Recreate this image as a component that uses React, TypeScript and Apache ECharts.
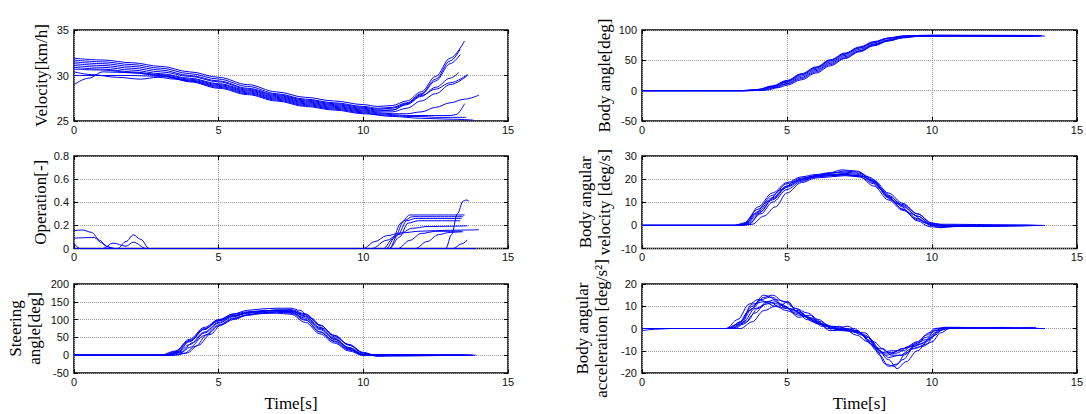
import React, { useEffect, useRef } from "react";
import * as echarts from "echarts";

type Pt = [number, number];

// ---------- DATA (time [s], value) ----------
const timeMin = 0;
const timeMax = 15;
const timeStep = 5;

const velocityRuns: Pt[][] = [
  [[0,31.9],[1,31.7],[2,31.4],[3,31.0],[4,30.4],[5,29.8],[6,29.0],[7,28.2],[8,27.6],[9,27.2],[10,26.8],[10.5,26.6],[11,26.7],[11.5,27.2],[12,28.2],[12.5,29.9],[13,31.9],[13.5,33.8]],
  [[0,31.7],[1,31.5],[2,31.2],[3,30.8],[4,30.2],[5,29.6],[6,28.8],[7,28.0],[8,27.4],[9,27.0],[10,26.6],[10.5,26.4],[11,26.5],[11.5,27.0],[12,28.0],[12.5,29.6],[13,31.6],[13.35,32.9]],
  [[0,31.5],[1,31.3],[2,31.0],[3,30.6],[4,30.0],[5,29.4],[6,28.6],[7,27.9],[8,27.3],[9,26.9],[10,26.5],[10.5,26.3],[11,26.4],[11.5,26.9],[12,27.9],[12.5,29.4],[13,31.3],[13.35,32.3]],
  [[0,31.3],[1,31.1],[2,30.8],[3,30.4],[4,29.9],[5,29.3],[6,28.5],[7,27.8],[8,27.2],[9,26.8],[10,26.4],[10.5,26.2],[11,26.2],[11.5,26.8],[12,27.7],[12.5,28.7],[13,29.7],[13.3,30.35]],
  [[0,31.1],[1,30.9],[2,30.6],[3,30.2],[4,29.7],[5,29.1],[6,28.4],[7,27.7],[8,27.1],[9,26.7],[10,26.3],[10.5,26.1],[11,26.2],[11.5,26.9],[12,27.8],[12.5,28.5],[13,29.2],[13.6,30.1]],
  [[0,30.9],[1,30.7],[2,30.4],[3,30.1],[4,29.6],[5,29.0],[6,28.3],[7,27.6],[8,27.0],[9,26.6],[10,26.2],[10.5,26.0],[11,26.0],[11.5,26.4],[12,27.2],[12.5,28.0],[13,29.0],[13.6,30.0]],
  [[0,30.7],[1,30.6],[2,30.3],[3,30.0],[4,29.5],[5,28.9],[6,28.2],[7,27.5],[8,26.9],[9,26.5],[10,26.1],[10.5,25.9],[11,25.8],[11.5,25.8],[12,26.0],[12.5,26.5],[13,27.0],[13.5,27.4],[14.0,27.85]],
  [[0,30.0],[0.5,30.0],[1,30.0],[2,30.0],[3,29.9],[4,29.4],[5,28.8],[6,28.1],[7,27.4],[8,26.8],[9,26.4],[10,26.0],[10.5,25.8],[11,25.7],[11.5,25.6],[12,25.6],[12.5,25.6],[13,25.6],[13.2,25.7],[13.5,26.9]],
  [[0,29.0],[0.5,29.7],[1,30.4],[2,30.3],[3,30.0],[4,29.4],[5,28.7],[6,28.0],[7,27.3],[8,26.7],[9,26.3],[10,25.9],[10.5,25.7],[11,25.6],[11.5,25.5],[12,25.5],[12.5,25.4],[13,25.4],[13.55,25.4]],
  [[0,30.4],[0.6,30.1],[1.5,29.8],[2.3,29.6],[2.9,29.8],[3.5,29.6],[4,29.3],[5,28.6],[6,27.9],[7,27.2],[8,26.6],[9,26.2],[10,25.8],[11,25.5],[12,25.3],[13,25.2],[13.8,25.1]],
];

const operationRuns: Pt[][] = [
  [[0,0.155],[0.3,0.16],[0.6,0.14],[0.9,0.07],[1.1,0.02],[1.4,0],[10.7,0],[11.0,0.08],[11.3,0.22],[11.6,0.29],[13.5,0.29]],
  [[0,0.09],[0.7,0.095],[0.95,0.05],[1.2,0.01],[1.4,0],[10.8,0],[11.1,0.1],[11.4,0.24],[11.7,0.275],[13.45,0.275]],
  [[0,0.045],[0.2,0],[1.5,0],[1.8,0.06],[2.05,0.118],[2.3,0.08],[2.6,0],[10.9,0],[11.2,0.12],[11.5,0.24],[11.8,0.26],[13.4,0.26]],
  [[0,0],[1.0,0],[1.35,0.047],[1.8,0.02],[2.05,0.055],[2.5,0],[10.9,0],[11.25,0.1],[11.55,0.22],[11.9,0.24],[13.35,0.24]],
  [[0,0],[10.0,0],[10.4,0.06],[10.8,0.11],[11.3,0.135],[12,0.15],[13,0.158],[14,0.162]],
  [[0,0],[10.3,0],[10.8,0.07],[11.2,0.12],[11.7,0.175],[12.2,0.19],[13.6,0.196]],
  [[0,0],[11.2,0],[11.6,0.07],[12.0,0.13],[12.5,0.148],[13.4,0.15]],
  [[0,0],[11.8,0],[12.2,0.06],[12.6,0.12],[13.0,0.14],[13.45,0.145]],
  [[0,0],[12.85,0],[13.05,0.12],[13.25,0.3],[13.45,0.41],[13.55,0.42],[13.65,0.41]],
  [[0,0],[13.1,0],[13.4,0.04],[13.6,0.075]],
  [[0,0],[13.9,0]],
];

const steeringRuns: Pt[][] = [
  [[0,0],[3.0,0],[3.5,12],[4,45],[4.5,78],[5,100],[5.5,115],[6,122],[6.5,125],[7,126],[7.5,122],[8,100],[8.5,65],[9,38],[9.5,15],[10,0],[13.5,0]],
  [[0,0],[3.1,0],[3.5,8],[4,38],[4.5,72],[5,97],[5.5,112],[6,120],[6.5,124],[7,127],[7.5,126],[8,110],[8.5,78],[9,48],[9.5,22],[10,3],[10.5,-2],[13.6,0]],
  [[0,0],[3.2,0],[3.6,8],[4,30],[4.5,65],[5,92],[5.5,110],[6,119],[6.5,124],[7,127],[7.5,128],[8,116],[8.5,85],[9,55],[9.5,28],[10,6],[10.5,-2],[13.8,0]],
  [[0,0],[3.3,0],[3.7,7],[4,22],[4.5,55],[5,85],[5.5,104],[6,114],[6.5,119],[7,121],[7.5,118],[8,98],[8.5,66],[9,40],[9.5,17],[10,1],[13.9,0]],
  [[0,0],[3.4,0],[3.8,5],[4.2,25],[4.6,58],[5,82],[5.5,102],[6,113],[6.5,117],[7,118],[7.5,115],[8,92],[8.5,60],[9,34],[9.5,12],[10,-1],[13.5,0]],
  [[0,0],[3.2,0],[3.6,10],[4,40],[4.5,74],[5,98],[5.5,116],[6,126],[6.5,130],[7,132],[7.5,132],[7.8,126],[8.2,104],[8.6,76],[9,52],[9.5,30],[10,8],[10.4,0],[13.7,0]],
  [[0,0],[3.3,0],[3.7,9],[4.1,35],[4.5,62],[5,90],[5.5,108],[6,118],[6.5,123],[7,125],[7.5,124],[8,108],[8.5,75],[9,46],[9.5,20],[10,2],[13.4,0]],
  [[0,0],[3.5,0],[3.9,6],[4.3,28],[4.7,58],[5.1,86],[5.5,100],[6,112],[6.5,118],[7,122],[7.5,124],[8,114],[8.5,84],[9,56],[9.5,30],[10,6],[10.5,-3],[11,0],[13.8,0]],
  [[0,0],[3.1,0],[3.5,10],[4,42],[4.5,74],[5,96],[5.5,111],[6,118],[6.5,121],[7,122],[7.5,120],[8,104],[8.5,72],[9,44],[9.5,20],[10,2],[10.5,1],[11.5,2],[12,0],[13.5,0]],
];

const bodyAngleRuns: Pt[][] = [
  [[0,0],[3.4,0],[4,2],[4.5,8],[5,17],[5.5,28],[6,39],[6.5,51],[7,62],[7.5,72],[8,81],[8.5,87],[9,90],[9.5,91],[10,91],[13.8,90.5]],
  [[0,0],[3.5,0],[4,1.5],[4.5,7],[5,15],[5.5,26],[6,37],[6.5,49],[7,60],[7.5,70],[8,79],[8.5,86],[9,89.5],[9.5,90.5],[10,91],[13.6,90.5]],
  [[0,0],[3.6,0],[4,1],[4.5,6],[5,14],[5.5,24],[6,35],[6.5,47],[7,58],[7.5,68],[8,77],[8.5,84],[9,89],[9.5,90],[10,90.5],[13.9,90]],
  [[0,0],[3.6,0],[4.1,1],[4.5,5],[5,12],[5.5,22],[6,33],[6.5,45],[7,56],[7.5,66],[8,76],[8.5,83],[9,88],[9.5,90],[10,90],[13.5,90]],
  [[0,0],[3.7,0],[4.2,1],[4.6,5],[5,11],[5.5,20],[6,31],[6.5,43],[7,54],[7.5,65],[8,75],[8.5,82],[9,87.5],[9.5,89.5],[10,90],[13.7,89.5]],
  [[0,0],[3.8,0],[4.3,1],[4.7,5],[5,9],[5.5,18],[6,29],[6.5,41],[7,53],[7.5,64],[8,74],[8.5,82],[9,87],[9.5,89.5],[10,90],[13.4,89.5]],
  [[0,0],[3.5,0],[4,2],[4.5,7],[5,16],[5.5,27],[6,38],[6.5,50],[7,61],[7.5,71],[8,80],[8.5,86.5],[9,90],[9.5,91],[10,91.5],[13.8,91]],
];

const angVelocityRuns: Pt[][] = [
  [[0,0],[3.2,0],[3.5,1],[4,7],[4.5,13],[5,18],[5.5,20.5],[6,21.5],[6.5,22.5],[7,23.5],[7.5,23],[7.8,21],[8.2,16],[8.6,11],[9,8],[9.5,4],[10,0.5],[13.6,0]],
  [[0,0],[3.3,0],[3.6,1],[4,6],[4.5,12],[5,17],[5.5,20],[6,21.5],[6.5,22],[7,22.5],[7.5,22],[8,18.5],[8.5,12],[9,7],[9.5,3],[10,0],[10.3,-0.5],[13.8,0]],
  [[0,0],[3.3,0],[3.6,0.5],[4,5],[4.5,11],[5,16.5],[5.5,19.5],[6,21],[6.5,22],[7,22],[7.5,21],[8,17],[8.5,11],[9,6.5],[9.5,2.5],[10,0],[13.5,0]],
  [[0,0],[3.4,0],[3.7,1],[4.1,5],[4.5,10],[5,15.5],[5.5,19],[6,21],[6.5,21.5],[7,22],[7.5,21.5],[8,19],[8.5,13],[9,8.5],[9.5,4],[10,0],[10.3,-1],[10.8,-0.5],[13.9,0]],
  [[0,0],[3.5,0],[3.8,0.5],[4.2,4],[4.6,8],[5,14],[5.5,18.5],[6,20.5],[6.5,21],[7,21.5],[7.5,21],[8,18],[8.5,12.5],[9,9],[9.5,5],[10,1],[10.5,0],[13.7,0]],
  [[0,0],[3.3,0],[3.6,1],[4,8],[4.5,14],[5,18.5],[5.5,21],[6,22],[6.5,22.8],[7,23],[7.5,22.5],[8,19],[8.5,12],[9,7],[9.5,2],[9.9,-0.5],[10.3,-1],[10.6,0],[13.4,0]],
  [[0,0],[3.4,0],[3.7,0.5],[4.1,6],[4.5,11.5],[5,17],[5.5,20],[6,21],[6.5,21.5],[7,21.8],[7.5,21.5],[8,19.5],[8.5,14],[9,9.5],[9.5,5],[10,1],[10.4,-0.5],[13.6,0]],
  [[0,0],[3.2,0],[3.5,0.5],[3.9,5],[4.3,10],[4.8,15.5],[5.3,19],[5.8,21],[6.4,22.5],[6.9,24],[7.4,23.5],[7.9,20.5],[8.3,15],[8.8,9.5],[9.3,5],[9.8,1],[10.2,0],[13.5,0]],
];

const angAccelRuns: Pt[][] = [
  [[0,0],[2.9,0],[3.3,2],[3.7,8],[4.1,13],[4.4,14],[4.8,11],[5.2,8],[5.6,6],[6,3],[6.4,1],[6.8,-0.5],[7.2,-1],[7.6,-3],[8,-8],[8.3,-11],[8.6,-11],[9,-9],[9.5,-6],[9.8,-3],[10.1,0],[10.5,0.5],[13.8,0]],
  [[0,-1],[0.5,-0.3],[1,0],[3.0,0],[3.4,3],[3.8,10],[4.2,15],[4.5,14],[4.9,10],[5.3,7],[5.7,5],[6.1,2],[6.5,1],[7,-1],[7.5,-2],[7.9,-6],[8.2,-12],[8.5,-17],[8.8,-16],[9.1,-11],[9.5,-6],[9.9,-2],[10.2,0],[13.5,0]],
  [[0,0],[3.1,0],[3.5,2],[3.9,7],[4.3,12],[4.6,13],[5,12],[5.3,9],[5.7,5],[6,4],[6.4,0],[6.8,1],[7.2,-1],[7.7,-2],[8.1,-9],[8.5,-14],[8.8,-18],[9.1,-15],[9.5,-10],[9.9,-5],[10.2,-1],[10.6,0],[13.9,0]],
  [[0,0],[3.2,0],[3.6,3],[4,9],[4.4,12],[4.7,10],[5.05,12],[5.3,8],[5.7,4],[6.1,2],[6.5,-1],[7,0],[7.4,-1],[7.8,-5],[8.1,-9],[8.4,-12],[8.8,-11],[9.2,-8],[9.6,-7],[10,-4],[10.3,0],[13.6,0.5]],
  [[0,0],[3.4,0],[3.8,3],[4.2,8],[4.6,10],[5,8],[5.4,6],[5.8,5],[6.2,2],[6.6,0],[7,-1],[7.4,-1],[7.8,-4],[8.2,-10],[8.5,-13],[8.9,-12],[9.3,-9],[9.7,-8],[10.0,-6],[10.3,-2],[10.6,0],[13.5,0]],
  [[0,0],[2.9,0],[3.3,4],[3.7,11],[4,13],[4.3,12],[4.7,11],[5.1,9],[5.5,7],[5.9,3],[6.3,2],[6.7,0],[7.1,1],[7.5,-2],[7.9,-7],[8.2,-11],[8.6,-10],[9,-10],[9.4,-7],[9.8,-5],[10.1,-1],[10.4,0.5],[13.7,0]],
  [[0,0],[3.0,0],[3.4,2],[3.8,9],[4.2,14],[4.5,15],[4.9,12],[5.3,9],[5.7,7],[6.1,4],[6.5,0],[6.9,-1],[7.3,0],[7.7,-3],[8,-6],[8.3,-9],[8.6,-12],[9,-12],[9.4,-9],[9.8,-7],[10.1,-3],[10.4,0],[13.8,0]],
  [[0,0],[3.1,0],[3.5,3],[3.9,9],[4.3,11],[4.6,12],[5,9],[5.4,5],[5.8,6],[6.2,1],[6.6,1],[7,-0.5],[7.4,-3],[7.8,-6],[8.1,-10],[8.4,-16],[8.7,-17],[9,-14],[9.4,-8],[9.8,-6],[10.1,-2],[10.5,0],[13.4,0]],
  [[0,0],[3.0,0],[3.4,3],[3.8,11],[4.2,12],[4.6,10],[5,9],[5.4,8],[5.8,4],[6.2,3],[6.6,-1],[7.0,0],[7.4,-1],[7.8,-4],[8.2,-9],[8.6,-11],[9,-9],[9.4,-8],[9.8,-4],[10.1,-1],[10.5,0],[12.5,0.5],[13,0],[13.9,0]],
];

// y-axis ranges: [min, max, interval]
const velocityRange = [25, 35, 5];
const operationRange = [0, 0.8, 0.2];
const steeringRange = [-50, 200, 50];
const bodyAngleRange = [-50, 100, 50];
const angVelocityRange = [-10, 30, 10];
const angAccelRange = [-20, 20, 10];

const yNames = [
  "Velocity[km/h]",
  "Operation[-]",
  "Steering\nangle[deg]",
  "Body angle[deg]",
  "Body angular\nvelocity [deg/s]",
  "Body angular\nacceleration [deg/s²]",
];
const xName = "Time[s]";

// ---------- LAYOUT ----------
const layout = [
  { left: 74, top: 30, width: 434, height: 91, gap: 23, xName: false },
  { left: 74, top: 156, width: 434, height: 92.5, gap: 24, xName: false },
  { left: 74, top: 284, width: 434, height: 92, gap: 30, xName: true },
  { left: 642, top: 30, width: 436, height: 91, gap: 28, xName: false },
  { left: 642, top: 156, width: 436, height: 92.5, gap: 28, xName: false },
  { left: 642, top: 284, width: 436, height: 92, gap: 31, xName: true },
];

const panelData = [velocityRuns, operationRuns, steeringRuns, bodyAngleRuns, angVelocityRuns, angAccelRuns];
const panelRanges = [velocityRange, operationRange, steeringRange, bodyAngleRange, angVelocityRange, angAccelRange];

const LINE = "#0000ff";
const tickFont = { fontFamily: "Liberation Sans, Arial, sans-serif", fontSize: 11, color: "#111" };
const nameFont = { fontFamily: "Liberation Serif, Times New Roman, serif", fontSize: 17, color: "#000", lineHeight: 19 };

export default function App() {
  const ref = useRef<HTMLDivElement>(null);
  useEffect(() => {
    document.body.style.margin = "0";
    if (!ref.current) return;
    const chart = echarts.init(ref.current, undefined, { renderer: "svg" });

    const grids: any[] = [];
    const xAxes: any[] = [];
    const yAxes: any[] = [];
    const series: any[] = [];

    layout.forEach((g, i) => {
      grids.push({
        left: g.left, top: g.top, width: g.width, height: g.height,
        show: true, borderColor: "#000", borderWidth: 1.5, containLabel: false,
      });
      const [ymin, ymax, yint] = panelRanges[i];
      const tick = { show: true, inside: true, length: 4, lineStyle: { color: "#000", width: 1 } };
      const noLine = { show: false, onZero: false };
      xAxes.push({
        type: "value", gridIndex: i, min: timeMin, max: timeMax, interval: timeStep, position: "bottom",
        axisLine: noLine, axisTick: tick,
        axisLabel: { ...tickFont, margin: 3 },
        splitLine: { show: true, lineStyle: { color: "#9a9a9a", type: "dotted", width: 1 } },
        name: g.xName ? xName : "", nameLocation: "middle", nameGap: 21,
        nameTextStyle: nameFont,
      });
      xAxes.push({
        type: "value", gridIndex: i, min: timeMin, max: timeMax, interval: timeStep, position: "top",
        axisLine: noLine, axisTick: tick, axisLabel: { show: false }, splitLine: { show: false },
      });
      yAxes.push({
        type: "value", gridIndex: i, min: ymin, max: ymax, interval: yint, position: "left",
        axisLine: noLine, axisTick: tick,
        axisLabel: { ...tickFont, margin: 5 },
        splitLine: { show: true, lineStyle: { color: "#9a9a9a", type: "dotted", width: 1 } },
        name: yNames[i], nameLocation: "middle", nameGap: g.gap, nameRotate: 90,
        nameTextStyle: nameFont,
      });
      yAxes.push({
        type: "value", gridIndex: i, min: ymin, max: ymax, interval: yint, position: "right",
        axisLine: noLine, axisTick: tick, axisLabel: { show: false }, splitLine: { show: false },
      });
      panelData[i].forEach((run) => {
        series.push({
          type: "line", xAxisIndex: 2 * i, yAxisIndex: 2 * i, data: run,
          showSymbol: false, symbol: "none", smooth: 0.35, smoothMonotone: "x",
          lineStyle: { color: LINE, width: 1 }, silent: true,
        });
      });
    });

    chart.setOption({
      animation: false,
      backgroundColor: "#fff",
      grid: grids,
      xAxis: xAxes,
      yAxis: yAxes,
      series,
    });
    return () => chart.dispose();
  }, []);
  return <div ref={ref} style={{ width: 1086, height: 414 }} />;
}
